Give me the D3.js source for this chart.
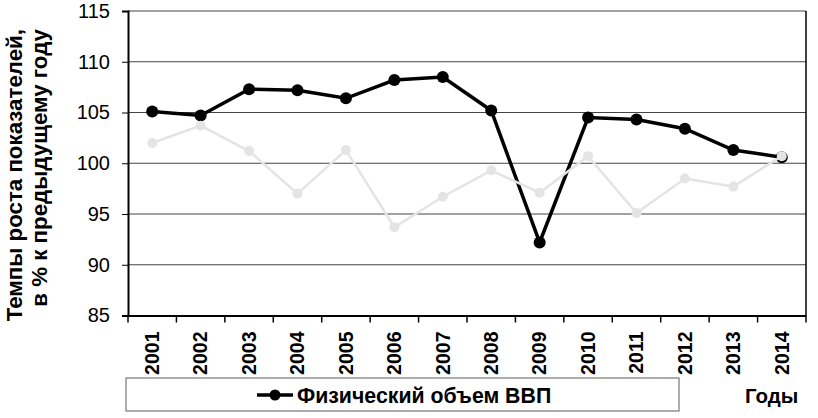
<!DOCTYPE html>
<html>
<head>
<meta charset="utf-8">
<title>Темпы роста</title>
<script src="https://d3js.org/d3.v7.min.js"></script>
<style>
  body { margin: 0; background: #fff; }
  svg text { font-family: Arial, "Liberation Sans", sans-serif; fill: #000; }
  .grid line { stroke: #444; stroke-width: 1.2px; }
  .yaxis text { font-size: 20px; }
  .xaxis text { font-size: 19.5px; font-weight: bold; }
</style>
</head>
<body>
<div id="chart"></div>
<script>
// data
var years = ["2001","2002","2003","2004","2005","2006","2007","2008","2009","2010","2011","2012","2013","2014"];
var gdp = [105.1, 104.7, 107.3, 107.2, 106.4, 108.2, 108.5, 105.2, 92.2, 104.5, 104.3, 103.4, 101.3, 100.6];
var second = [102.0, 103.7, 101.2, 97.0, 101.3, 93.7, 96.7, 99.3, 97.1, 100.7, 95.1, 98.5, 97.7, 100.7];
var yTicks = [85, 90, 95, 100, 105, 110, 115];
var legendLabel = "Физический объем ВВП";
var xTitle = "Годы";
var yTitle = ["Темпы роста показателей,", "в % к предыдущему году"];

var W = 818, H = 418;
var margin = {top: 11, right: 12, bottom: 102.5, left: 128};
var width = W - margin.left - margin.right,
    height = H - margin.top - margin.bottom;

var svg = d3.select("#chart").append("svg")
  .attr("width", W).attr("height", H);
svg.append("rect").attr("width", W).attr("height", H).attr("fill", "#fff");

var g = svg.append("g").attr("transform", "translate(" + margin.left + "," + margin.top + ")");

var x = d3.scaleBand().domain(years).range([0, width]);
var y = d3.scaleLinear().domain([85, 115]).range([height, 0]);

// gridlines
g.append("g").attr("class", "grid")
  .selectAll("line").data(yTicks.slice(1)).enter().append("line")
  .attr("x1", 0).attr("x2", width)
  .attr("y1", function(d) { return y(d); })
  .attr("y2", function(d) { return y(d); });

// right border
g.append("line").attr("x1", width).attr("x2", width).attr("y1", 0).attr("y2", height)
  .attr("stroke", "#000").attr("stroke-width", 1.5);

// y axis
var yAxis = g.append("g").attr("class", "yaxis")
  .call(d3.axisLeft(y).tickValues(yTicks).tickSize(6).tickPadding(12));
yAxis.select(".domain").attr("stroke-width", 2);

// x axis, ticks on band edges
var xAxis = g.append("g").attr("class", "xaxis")
  .attr("transform", "translate(0," + height + ")")
  .call(d3.axisBottom(x).tickSize(0));
xAxis.select(".domain").attr("stroke-width", 2);
xAxis.selectAll(".tick text")
  .attr("transform", "rotate(-90)")
  .attr("text-anchor", "end")
  .attr("x", -16)
  .attr("y", 0)
  .attr("dy", "0.35em");
xAxis.selectAll(".edge").data(d3.range(years.length + 1)).enter().append("line")
  .attr("class", "edge")
  .attr("x1", function(i) { return i * x.step(); })
  .attr("x2", function(i) { return i * x.step(); })
  .attr("y1", 0).attr("y2", 7)
  .attr("stroke", "#000").attr("stroke-width", 1.5);

function cx(d, i) { return x(years[i]) + x.bandwidth() / 2; }

var line = d3.line()
  .x(function(d, i) { return cx(d, i); })
  .y(function(d) { return y(d); });

// main series
g.append("path").datum(gdp)
  .attr("d", line).attr("fill", "none")
  .attr("stroke", "#000").attr("stroke-width", 3.5);
g.selectAll(".pt1").data(gdp).enter().append("circle")
  .attr("class", "pt1")
  .attr("cx", cx).attr("cy", function(d) { return y(d); })
  .attr("r", 6).attr("fill", "#000");

// light series
g.append("path").datum(second)
  .attr("d", line).attr("fill", "none")
  .attr("stroke", "#e4e4e4").attr("stroke-width", 2.5);
g.selectAll(".pt2").data(second).enter().append("circle")
  .attr("class", "pt2")
  .attr("cx", cx).attr("cy", function(d) { return y(d); })
  .attr("r", 5).attr("fill", "#e4e4e4");

// y title
yTitle.forEach(function(t, i) {
  svg.append("text")
    .attr("transform", "translate(" + (22 + i * 25) + ",29) rotate(-90)")
    .attr("text-anchor", "end")
    .attr("font-size", "22.3px").attr("font-weight", "bold")
    .text(t);
});

// legend
var lg = svg.append("g");
lg.append("rect").attr("x", 126).attr("y", 378).attr("width", 553).attr("height", 33)
  .attr("fill", "#fff").attr("stroke", "#777").attr("stroke-width", 1.2);
lg.append("line").attr("x1", 257).attr("x2", 293).attr("y1", 395).attr("y2", 395)
  .attr("stroke", "#000").attr("stroke-width", 3.5);
lg.append("circle").attr("cx", 275).attr("cy", 395).attr("r", 5.5).attr("fill", "#000");
lg.append("text").attr("x", 297).attr("y", 403)
  .attr("font-size", "21.3px").attr("font-weight", "bold")
  .text(legendLabel);

svg.append("text").attr("x", 745).attr("y", 403)
  .attr("font-size", "20.5px").attr("font-weight", "bold")
  .text(xTitle);
</script>
</body>
</html>
